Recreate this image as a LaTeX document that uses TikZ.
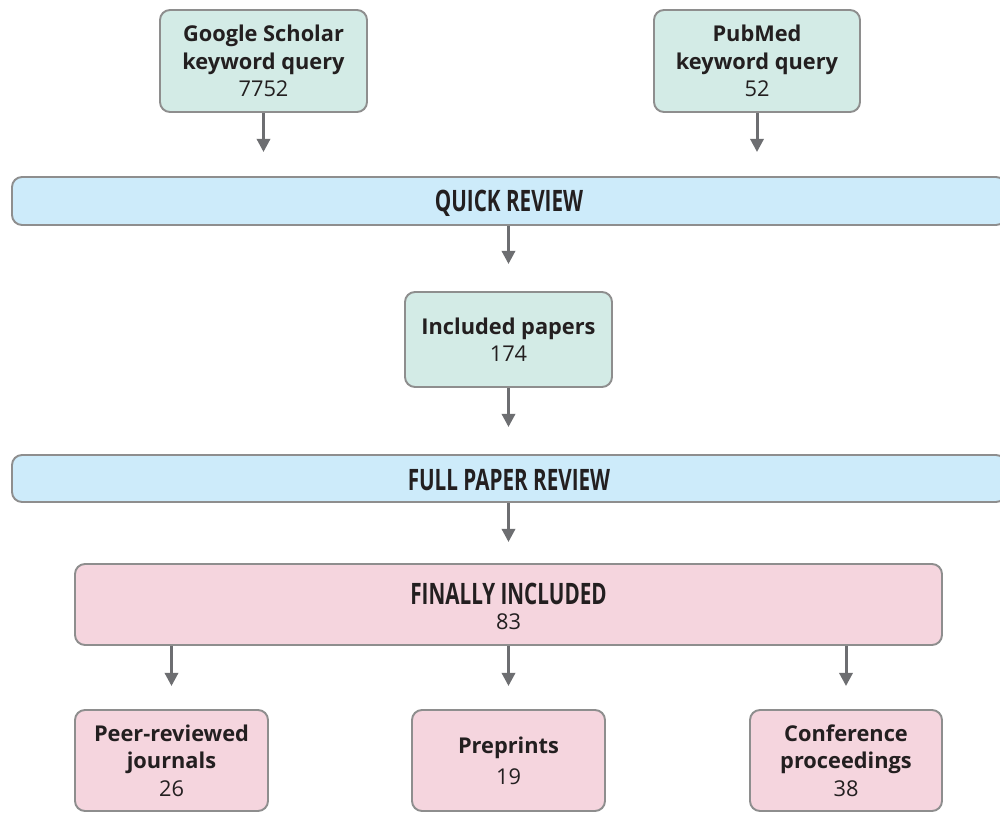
\documentclass[tikz,border=0pt]{standalone}
\usepackage{fontspec}
\setmainfont{Open Sans}
\newfontfamily\condfont[FakeStretch=0.7]{Open Sans}
\usetikzlibrary{arrows.meta}
\definecolor{gfill}{HTML}{D3EBE6}
\definecolor{bfill}{HTML}{CDEBFA}
\definecolor{pfill}{HTML}{F5D5DE}
\definecolor{bord}{HTML}{8E8E8E}
\definecolor{arr}{HTML}{6D6E71}
\definecolor{txt}{HTML}{231F20}
\tikzset{
  box/.style={draw=bord, line width=1.1pt, rounded corners=0.2cm, align=center,
    inner sep=0pt, text=txt, font=\fontsize{12.4}{15.6}\selectfont},
  gbox/.style={box, fill=gfill},
  bband/.style={box, fill=bfill},
  bandtext/.style={text=txt, font=\condfont\bfseries\fontsize{16.8}{19}\selectfont},
  pbox/.style={box, fill=pfill},
  flow/.style={draw=arr, line width=1.7pt, -{Triangle[width=7.5pt,length=7.5pt]}}
}
\begin{document}
\begin{tikzpicture}[x=0.02cm,y=-0.02cm]
\useasboundingbox (0,0) rectangle (1000,813);
\node[gbox, minimum width=207*0.02cm, minimum height=102*0.02cm] (gs) at (263.5,61)
  {\textbf{Google Scholar}\\\textbf{keyword query}\\7752};
\node[gbox, minimum width=206*0.02cm, minimum height=102*0.02cm] (pm) at (757,61)
  {\textbf{PubMed}\\\textbf{keyword query}\\52};
\node[bband, minimum width=994*0.02cm, minimum height=48*0.02cm] (qr) at (509,201) {};
\node[bandtext] (qrt) at (509,203) {QUICK REVIEW};
\node[gbox, minimum width=207*0.02cm, minimum height=95*0.02cm] (ip) at (508.5,339.5)
  {\textbf{Included papers}\\174};
\node[bband, minimum width=994*0.02cm, minimum height=47*0.02cm] (fr) at (509,478.5) {};
\node[bandtext] (frt) at (509,480.5) {FULL PAPER REVIEW};
\node[pbox, minimum width=867*0.02cm, minimum height=81*0.02cm] (fi) at (508.5,604.5) {};
\node[bandtext] (fit) at (508.5,593.5) {FINALLY INCLUDED};
\node[text=txt, font=\fontsize{12.4}{15.4}\selectfont] (fin) at (508.5,622) {83};
\node[pbox, minimum width=193*0.02cm, minimum height=101*0.02cm] (pr) at (171.5,760.5)
  {\textbf{Peer-reviewed}\\\textbf{journals}\\26};
\node[pbox, minimum width=193*0.02cm, minimum height=101*0.02cm] (pp) at (508.5,760.5)
  {\textbf{Preprints}\\[2pt]19};
\node[pbox, minimum width=192*0.02cm, minimum height=101*0.02cm] (cp) at (846,760.5)
  {\textbf{Conference}\\\textbf{proceedings}\\38};
\draw[flow, shorten >=24*0.02cm] (gs.south) -- (gs.south |- qr.north);
\draw[flow, shorten >=24*0.02cm] (pm.south) -- (pm.south |- qr.north);
\draw[flow, shorten >=27*0.02cm] (qr.south -| ip.south) -- (ip.north);
\draw[flow, shorten >=27*0.02cm] (ip.south) -- (ip.south |- fr.north);
\draw[flow, shorten >=21*0.02cm] (fr.south -| fi.north) -- (fi.north);
\draw[flow, shorten >=23*0.02cm] (fi.south -| pr.north) -- (pr.north);
\draw[flow, shorten >=23*0.02cm] (fi.south -| pp.north) -- (pp.north);
\draw[flow, shorten >=23*0.02cm] (fi.south -| cp.north) -- (cp.north);
\end{tikzpicture}
\end{document}
